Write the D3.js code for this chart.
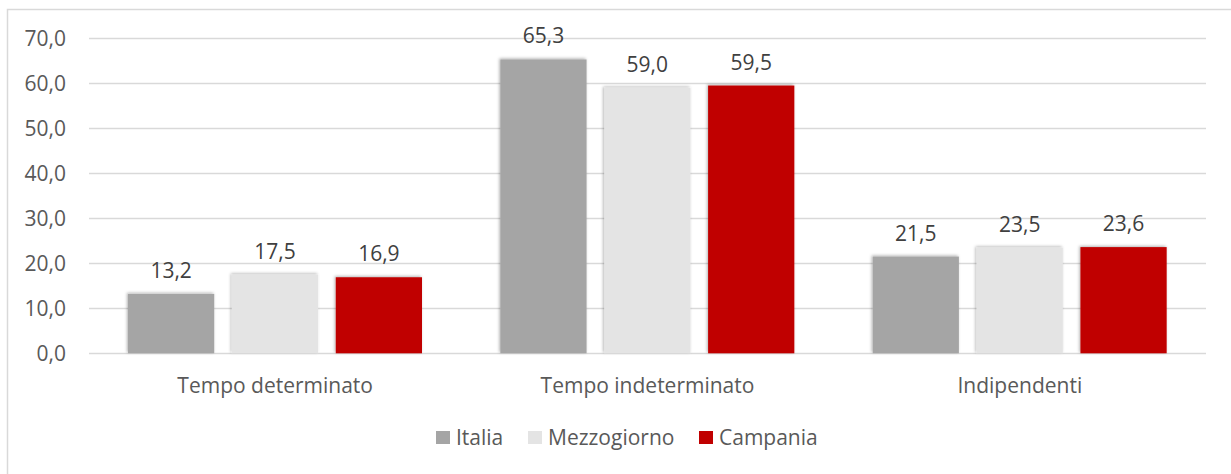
<!DOCTYPE html>
<html>
<head>
<meta charset="utf-8">
<script src="https://cdn.jsdelivr.net/npm/d3@7"></script>
<style>
  html, body { margin: 0; padding: 0; background: #fff; }
  svg { display: block; }
  text { font-family: "Open Sans", "Noto Sans", sans-serif; }
</style>
</head>
<body>
<svg id="chart" width="1231" height="474"></svg>
<script>
const categories = ["Tempo determinato", "Tempo indeterminato", "Indipendenti"];
const seriesNames = ["Italia", "Mezzogiorno", "Campania"];
const italia = [13.2, 65.3, 21.5];
const mezzogiorno = [17.5, 59.0, 23.5];
const campania = [16.9, 59.5, 23.6];
const yTicks = [0, 10, 20, 30, 40, 50, 60, 70];
const colors = ["#a5a5a5", "#e4e4e4", "#c00000"];

const seriesValues = [italia, mezzogiorno, campania];
const fmt = v => d3.format(".1f")(v).replace(".", ",");
const FS = 21;

const svg = d3.select("#chart");

// outer frame (only left/top visible in the crop)
svg.append("rect")
  .attr("x", 7.5).attr("y", 9.5)
  .attr("width", 1400).attr("height", 600)
  .attr("fill", "none").attr("stroke", "#d9d9d9").attr("stroke-width", 1.5);

const defs = svg.append("defs");
const f = defs.append("filter").attr("id", "shadow")
  .attr("x", "-10%").attr("y", "-10%").attr("width", "120%").attr("height", "120%");
f.append("feDropShadow")
  .attr("dx", -1).attr("dy", -1).attr("stdDeviation", 1.6)
  .attr("flood-color", "#000").attr("flood-opacity", 0.3);

const y = d3.scaleLinear().domain([0, 70]).range([353.3, 38.3]);
const x0 = d3.scaleBand().domain(categories).range([89, 1206]).padding(0);
const x1 = d3.scaleBand().domain(seriesNames).range([39, 333]).paddingInner(0.17).paddingOuter(0);

// gridlines
svg.append("g").selectAll("line").data(yTicks).join("line")
  .attr("x1", 89).attr("x2", 1206)
  .attr("y1", d => Math.round(y(d)) + 0.5).attr("y2", d => Math.round(y(d)) + 0.5)
  .attr("stroke", "#d9d9d9").attr("stroke-width", 1.3);

// y axis labels
svg.append("g").selectAll("text").data(yTicks).join("text")
  .attr("x", 66).attr("y", d => y(d))
  .attr("dy", "0.36em")
  .attr("text-anchor", "end")
  .attr("font-size", FS).attr("fill", "#595959")
  .text(d => fmt(d));

// bars
const groups = svg.append("g").selectAll("g").data(categories).join("g")
  .attr("transform", d => `translate(${x0(d)},0)`);

groups.each(function(cat, ci) {
  const g = d3.select(this);
  const data = seriesNames.map((s, si) => ({ s, si, v: seriesValues[si][ci] }));
  g.selectAll("rect").data(data).join("rect")
    .attr("x", d => x1(d.s))
    .attr("y", d => y(d.v))
    .attr("width", x1.bandwidth())
    .attr("height", d => y(0) - y(d.v))
    .attr("fill", d => colors[d.si])
    .attr("filter", "url(#shadow)");
  g.selectAll("text").data(data).join("text")
    .attr("x", d => x1(d.s) + x1.bandwidth() / 2)
    .attr("y", d => y(d.v) - 16)
    .attr("text-anchor", "middle")
    .attr("font-size", FS).attr("fill", "#404040")
    .text(d => fmt(d.v));
});

// category labels
svg.append("g").selectAll("text").data(categories).join("text")
  .attr("x", d => x0(d) + x0.bandwidth() / 2)
  .attr("y", 393)
  .attr("text-anchor", "middle")
  .attr("font-size", FS).attr("fill", "#595959")
  .text(d => d);

// legend
const legendX = [436, 528, 699];
const lg = svg.append("g").selectAll("g").data(seriesNames).join("g")
  .attr("transform", (d, i) => `translate(${legendX[i]},431)`);
lg.append("rect").attr("width", 14).attr("height", 13)
  .attr("fill", (d, i) => colors[i]);
lg.append("text").attr("x", 20).attr("y", 14)
  .attr("font-size", FS).attr("fill", "#595959")
  .text(d => d);
</script>
</body>
</html>
